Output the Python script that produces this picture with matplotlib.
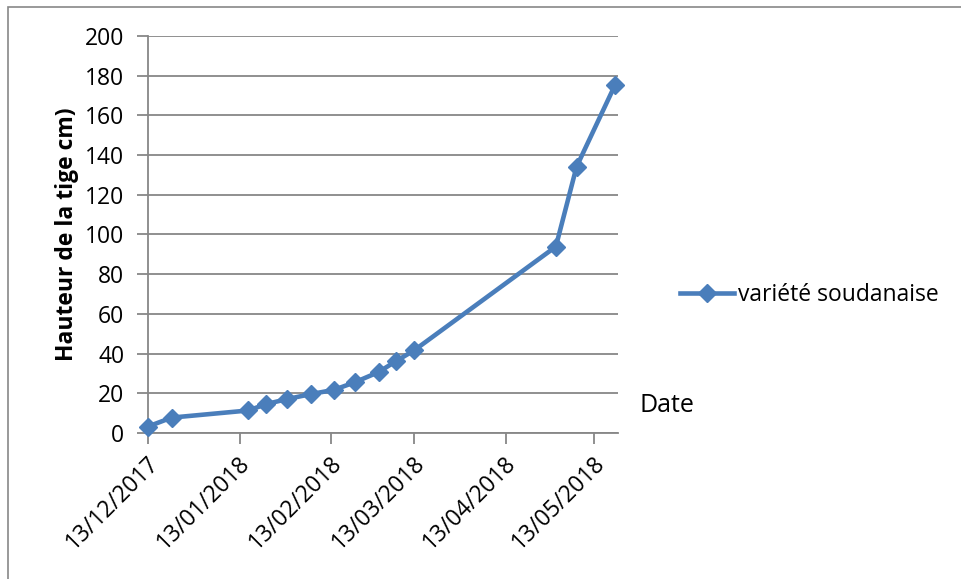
import datetime as dt
import matplotlib
matplotlib.use("Agg")
import matplotlib.pyplot as plt
import matplotlib.dates as mdates
from matplotlib.patches import Rectangle

# measurement dates and stem height (cm)
dates = ["13/12/2017", "21/12/2017", "16/01/2018", "22/01/2018", "29/01/2018",
         "06/02/2018", "14/02/2018", "21/02/2018", "01/03/2018", "07/03/2018",
         "13/03/2018", "30/04/2018", "07/05/2018", "20/05/2018"]
hauteur = [3.3, 7.8, 11.4, 14.6, 17.1, 19.6, 21.8, 25.6, 30.7, 36.3,
           41.6, 93.9, 134.1, 175.2]

tick_dates = ["13/12/2017", "13/01/2018", "13/02/2018", "13/03/2018",
              "13/04/2018", "13/05/2018"]
yticks = list(range(0, 201, 20))

to_date = lambda s: dt.datetime.strptime(s, "%d/%m/%Y")
x = [to_date(d) for d in dates]
xt = [to_date(d) for d in tick_dates]

plt.rcParams["font.family"] = ["Open Sans", "DejaVu Sans"]
blue = "#4A7EBB"
grey = "#878787"
fs = 16.5

fig = plt.figure(figsize=(9.61, 5.79), dpi=100)
ax = fig.add_axes([0.154, 0.252, 0.489, 0.686])

# chart border (only left and top edges fall inside the image)
fig.patches.append(Rectangle((8 / 961, -0.1), 1.2, 1 - 7 / 579 + 0.1,
                             transform=fig.transFigure, fill=False,
                             edgecolor=grey, linewidth=1.2))

ax.plot(x, hauteur, color=blue, linewidth=3.3, marker="D", markersize=9,
        markerfacecolor=blue, markeredgecolor=blue, label="variété soudanaise",
        clip_on=False, zorder=3)

ax.set_ylim(0, 200)
ax.set_yticks(yticks)
ax.set_xlim(x[0], to_date("21/05/2018"))
ax.set_xticks(xt)
ax.xaxis.set_major_formatter(mdates.DateFormatter("%d/%m/%Y"))
ax.tick_params(axis="x", labelbottom=False)

# slanted date labels hung just below each tick
for d, s in zip(xt, tick_dates):
    ax.annotate(s, xy=(mdates.date2num(d), 0), xycoords=("data", "axes fraction"),
                xytext=(-1, -13), textcoords="offset points", rotation=45,
                ha="right", va="top", rotation_mode="anchor", fontsize=fs,
                annotation_clip=False)

ax.grid(axis="y", color=grey, linewidth=1.3)
ax.set_axisbelow(True)
for side in ["top", "right"]:
    ax.spines[side].set_visible(False)
for side in ["left", "bottom"]:
    ax.spines[side].set_color(grey)
    ax.spines[side].set_linewidth(1.3)
ax.tick_params(axis="both", colors=grey, length=8, width=1.3,
               labelcolor="black", labelsize=fs)
ax.tick_params(axis="y", pad=9)

ax.set_ylabel("Hauteur de la tige cm)", fontsize=fs, fontweight="bold",
              labelpad=4)

ax.legend(loc="center left", bbox_to_anchor=(680 / 961, 1 - 295 / 579),
          bbox_transform=fig.transFigure, frameon=False, fontsize=fs,
          borderpad=0, borderaxespad=0, handlelength=2.35, handletextpad=0.2)
fig.text(640 / 961, 1 - 406 / 579, "Date", fontsize=18, va="center")

fig.savefig("out.png", dpi=100)
